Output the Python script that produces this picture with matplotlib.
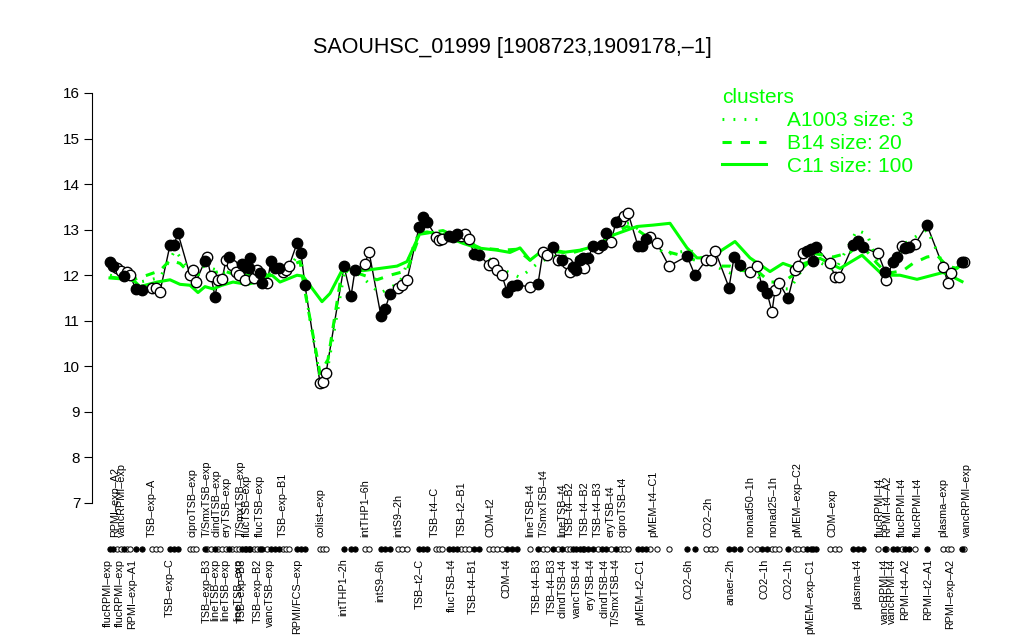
import matplotlib
matplotlib.use("Agg")
import matplotlib.pyplot as plt
from matplotlib.lines import Line2D

plt.rcParams['font.family'] = ['Liberation Sans', 'DejaVu Sans']

GREEN = '#00FF00'
title = "SAOUHSC_01999 [1908723,1909178,\u20131]"

# condition positions along the x axis, expression values, filled (1) / open (0)
xpos = [110, 113, 117, 121, 124, 127, 130, 136, 142, 152, 156, 160, 170, 174, 178,
        190, 193, 196, 205, 207, 211, 215, 218, 222, 226, 229, 232, 236, 239, 242,
        245, 246, 249, 250, 254, 257, 260, 262, 267, 271, 275, 279, 283, 286, 289,
        297, 301, 305, 320, 323, 326, 344, 351, 355, 365, 369, 381, 385, 390, 398,
        402, 407, 419, 423, 427, 436, 439, 442, 449, 453, 457, 461, 465, 469, 474,
        479, 489, 493, 497, 502, 507, 512, 517, 530, 538, 543, 547, 553, 558, 562,
        567, 570, 573, 576, 580, 583, 584, 588, 593, 598, 602, 606, 611, 616, 620,
        624, 628, 638, 642, 646, 650, 657, 669, 687, 695, 706, 711, 715, 729, 734,
        740, 750, 757, 762, 767, 772, 775, 779, 788, 795, 798, 803, 807, 811, 813,
        816, 830, 835, 839, 853, 858, 863, 878, 885, 886, 893, 897, 902, 905, 909,
        915, 927, 943, 948, 951, 962, 964]
values = [12.30, 12.20, 12.15, 12.10, 11.98, 12.08, 12.00, 11.69, 11.67, 11.73, 11.71, 11.64, 12.66, 12.67, 12.92,
          12.00, 12.11, 11.86, 12.32, 12.39, 11.98, 11.53, 11.89, 11.91, 12.33, 12.39, 12.22, 12.08, 12.00, 12.25,
          11.89, 12.19, 12.15, 12.37, 11.93, 12.11, 12.04, 11.82, 11.82, 12.31, 12.15, 12.15, 12.08, 12.12, 12.20,
          12.70, 12.49, 11.78, 9.64, 9.66, 9.85, 12.20, 11.54, 12.11, 12.25, 12.52, 11.10, 11.25, 11.59, 11.71,
          11.78, 11.89, 13.05, 13.28, 13.17, 12.85, 12.77, 12.79, 12.86, 12.83, 12.90, 12.86, 12.90, 12.79, 12.47,
          12.45, 12.22, 12.26, 12.11, 12.00, 11.64, 11.76, 11.78, 11.75, 11.81, 12.52, 12.44, 12.61, 12.33, 12.33,
          12.26, 12.08, 12.18, 12.11, 12.33, 12.37, 12.15, 12.37, 12.64, 12.59, 12.66, 12.92, 12.74, 13.17, 13.20,
          13.30, 13.37, 12.64, 12.64, 12.79, 12.83, 12.70, 12.20, 12.42, 12.00, 12.33, 12.33, 12.54, 11.73, 12.39,
          12.22, 12.06, 12.20, 11.76, 11.62, 11.20, 11.67, 11.84, 11.49, 12.11, 12.20, 12.48, 12.54, 12.57, 12.32,
          12.62, 12.26, 11.97, 11.96, 12.66, 12.76, 12.61, 12.48, 12.08, 11.89, 12.30, 12.41, 12.64, 12.59, 12.61,
          12.68, 13.10, 12.19, 11.82, 12.04, 12.30, 12.30]
filled = [1, 1, 0, 0, 1, 0, 0, 1, 1, 0, 0, 0, 1, 1, 1,
          0, 0, 0, 1, 0, 0, 1, 0, 0, 0, 1, 0, 0, 0, 1,
          0, 1, 1, 1, 0, 0, 1, 1, 0, 1, 1, 1, 0, 0, 0,
          1, 1, 1, 0, 0, 0, 1, 1, 1, 0, 0, 1, 1, 1, 0,
          0, 0, 1, 1, 1, 0, 0, 0, 1, 1, 1, 0, 0, 0, 1,
          1, 0, 0, 0, 0, 1, 1, 1, 0, 1, 0, 0, 1, 0, 1,
          0, 0, 1, 1, 1, 1, 0, 1, 1, 0, 1, 1, 0, 1, 0,
          0, 0, 1, 1, 1, 0, 0, 0, 1, 1, 0, 0, 0, 1, 1,
          1, 0, 0, 1, 1, 0, 0, 0, 1, 0, 0, 0, 1, 1, 1,
          1, 0, 0, 0, 1, 1, 1, 0, 1, 0, 1, 1, 0, 1, 1,
          0, 1, 0, 0, 0, 1, 0]

# cluster profiles
c11_x = [110, 133, 140, 157, 170, 180, 190, 198, 205, 213, 222, 233, 247, 257, 263, 272, 280, 297, 303, 322,
         330, 343, 363, 380, 397, 407, 420, 427, 440, 463, 477, 497, 510, 520, 530, 543, 563, 580, 597, 613,
         637, 653, 670, 687, 697, 710, 735, 750, 770, 783, 793, 810, 820, 840, 862, 883, 900, 917, 943, 953, 962]
c11_v = [11.94, 11.90, 11.75, 11.85, 11.90, 11.80, 11.78, 11.62, 11.75, 11.70, 11.78, 11.85, 11.80, 11.85, 11.95,
         12.00, 11.85, 12.00, 11.98, 11.42, 11.60, 12.15, 12.10, 12.15, 12.20, 12.30, 12.92, 12.95, 12.90, 12.70,
         12.60, 12.55, 12.50, 12.60, 12.33, 12.55, 12.50, 12.55, 12.65, 12.88, 13.07, 13.10, 13.14, 12.60, 12.38,
         12.38, 12.74, 12.38, 12.08, 12.26, 12.18, 12.30, 12.37, 12.15, 12.44, 12.00, 12.00, 11.91, 12.06, 11.96, 11.86]
b14_x = [110, 133, 147, 160, 170, 180, 190, 203, 223, 237, 250, 263, 277, 300, 305, 320, 328, 342, 357, 377,
         390, 407, 420, 443, 463, 480, 503, 517, 530, 550, 570, 590, 603, 617, 627, 637, 650, 670, 687, 703,
         717, 730, 743, 757, 770, 783, 797, 810, 813, 833, 850, 860, 877, 887, 903, 913, 927, 937, 947, 957, 963]
b14_v = [11.96, 11.90, 12.00, 12.10, 12.33, 12.26, 12.04, 12.00, 12.10, 12.00, 12.00, 11.95, 12.10, 12.30, 11.64,
         9.85, 10.15, 12.10, 12.05, 11.90, 12.00, 12.10, 12.90, 12.98, 12.77, 12.60, 12.55, 12.57, 12.33, 12.57,
         12.48, 12.60, 12.66, 12.96, 13.07, 13.00, 12.80, 12.50, 12.40, 12.26, 12.20, 12.20, 12.10, 12.10, 11.85,
         11.85, 12.06, 12.30, 12.48, 12.40, 12.50, 12.70, 12.26, 12.04, 12.10, 12.26, 12.40, 12.44, 12.20, 12.15, 12.26]
a1003_x = [110, 140, 160, 175, 190, 205, 225, 245, 265, 290, 300, 305, 320, 328, 345, 360, 380, 400, 420, 440,
           465, 480, 500, 520, 540, 560, 580, 600, 617, 630, 645, 665, 690, 710, 730, 750, 770, 790, 810, 835,
           857, 867, 887, 905, 927, 945, 963]
a1003_v = [12.00, 11.85, 11.95, 12.55, 12.10, 12.20, 12.05, 12.15, 12.00, 12.20, 12.50, 11.70, 9.75, 10.00, 12.15,
           12.00, 11.60, 11.85, 13.00, 12.90, 12.85, 12.55, 12.15, 11.95, 12.30, 12.45, 12.35, 12.65, 13.10, 13.15,
           12.90, 12.45, 12.55, 12.25, 12.05, 12.15, 11.70, 11.70, 12.40, 12.10, 12.99, 12.90, 11.75, 12.70, 13.00,
           12.15, 12.15]

# condition labels above and below the marker strip
top_labels = ["RPMI\u2013exp\u2013A2", "vancRPMI\u2013exp", "TSB\u2013exp\u2013A", "ciproTSB\u2013exp",
              "T/SmxTSB\u2013exp", "clindTSB\u2013exp", "eryTSB\u2013exp", "T/SmxTSB\u2013exp", "flucTSB\u2013exp",
              "flucTSB\u2013exp", "TSB\u2013exp\u2013B1", "colist\u2013exp", "intTHP1\u20136h", "intS9\u20132h",
              "TSB\u2013t4\u2013C", "TSB\u2013t2\u2013B1", "CDM\u2013t2", "lineTSB\u2013t4", "T/SmxTSB\u2013t4",
              "lineTSB\u2013t4", "TSB\u2013t4\u2013B2", "TSB\u2013t4\u2013B2", "TSB\u2013t4\u2013B3", "eryTSB\u2013t4",
              "ciproTSB\u2013t4", "pMEM\u2013t4\u2013C1", "CO2\u20132h", "nonad50\u20131h", "nonad25\u20131h",
              "pMEM\u2013exp\u2013C2", "CDM\u2013exp", "flucRPMI\u2013t4", "RPMI\u2013t4\u2013A2", "flucRPMI\u2013t4",
              "flucRPMI\u2013t4", "plasma\u2013exp", "vancRPMI\u2013exp"]
top_x = [115, 122, 152, 192, 207, 216, 227, 241, 247, 260, 283, 320, 365, 398, 435, 462, 490, 530, 544,
         562, 570, 585, 598, 610, 622, 653, 708, 750, 773, 797, 832, 880, 887, 902, 918, 943, 967]
bottom_labels = ["flucRPMI\u2013exp", "flucRPMI\u2013exp", "RPMI\u2013exp\u2013A1", "TSB\u2013exp\u2013C",
                 "TSB\u2013exp\u2013B3", "lineTSB\u2013exp", "lineTSB\u2013exp", "lineTSB\u2013exp",
                 "TSB\u2013exp\u2013B3", "TSB\u2013exp\u2013B2", "vancTSB\u2013exp", "RPMI/FCS\u2013exp",
                 "intTHP1\u20132h", "intS9\u20136h", "TSB\u2013t2\u2013C", "flucTSB\u2013t4", "TSB\u2013t4\u2013B1",
                 "CDM\u2013t4", "TSB\u2013t4\u2013B3", "TSB\u2013t4\u2013B3", "clindTSB\u2013t4", "vancTSB\u2013t4",
                 "eryTSB\u2013t4", "clindTSB\u2013t4", "T/SmxTSB\u2013t4", "pMEM\u2013t2\u2013C1", "CO2\u20136h",
                 "anaer\u20132h", "CO2\u20131h", "CO2\u20131h", "pMEM\u2013exp\u2013C1", "plasma\u2013t4",
                 "vancRPMI\u2013t4", "vancRPMI\u2013t4", "RPMI\u2013t4\u2013A2", "RPMI\u2013t2\u2013A1",
                 "RPMI\u2013exp\u2013A2"]
bottom_x = [108, 120, 132, 170, 207, 215, 225, 238, 242, 258, 270, 297, 343, 380, 420, 452, 473, 507,
            537, 552, 563, 577, 590, 604, 616, 640, 688, 730, 765, 788, 810, 857, 885, 892, 905, 928, 950]

legend_labels = ["A1003 size: 3", "B14 size: 20", "C11 size: 100"]
y_ticks = [7, 8, 9, 10, 11, 12, 13, 14, 15, 16]

fig = plt.figure(figsize=(10.24, 6.4), dpi=100)
ax = fig.add_axes([92 / 1024, 120.6 / 640, (1000 - 92) / 1024, 442.8 / 640])
ax.set_xlim(92, 1000)
ax.set_ylim(6.64, 16.36)

# black profile line and points
ax.plot(xpos, values, color='black', lw=1.0, zorder=2)
ax.plot(c11_x, c11_v, color=GREEN, lw=2.2, ls='-', zorder=3)
ax.plot(b14_x, b14_v, color=GREEN, lw=2.2, ls=(0, (3, 3)), zorder=3)
ax.plot(a1003_x, a1003_v, color=GREEN, lw=2.2, ls=(0, (0.6, 3)), zorder=3)
fx = [x for x, f in zip(xpos, filled) if f]
fv = [v for v, f in zip(values, filled) if f]
ox = [x for x, f in zip(xpos, filled) if not f]
ov = [v for v, f in zip(values, filled) if not f]
ax.plot(ox, ov, ls='none', marker='o', ms=7.5, mfc='white', mec='black', mew=1.0, zorder=4)
ax.plot(fx, fv, ls='none', marker='o', ms=7.5, mfc='black', mec='black', mew=1.0, zorder=5)

# marker strip
strip_y = 5.99
ax.plot(ox, [strip_y] * len(ox), ls='none', marker='o', ms=3.8, mfc='white', mec='black', mew=0.7, clip_on=False)
ax.plot(fx, [strip_y] * len(fx), ls='none', marker='o', ms=3.8, mfc='black', mec='black', mew=0.7, clip_on=False)

for name, x in zip(top_labels, top_x):
    ax.text(x, 6.25, name, rotation=90, ha='center', va='bottom', fontsize=7.8, clip_on=False)
for name, x in zip(bottom_labels, bottom_x):
    ax.text(x, 5.78, name, rotation=90, ha='center', va='top', fontsize=7.8, clip_on=False)

# axes styling
for s in ['top', 'right', 'bottom']:
    ax.spines[s].set_visible(False)
ax.spines['left'].set_bounds(7, 16)
ax.spines['left'].set_linewidth(0.8)
ax.set_yticks(y_ticks)
ax.set_yticklabels([str(t) for t in y_ticks], fontsize=11)
ax.tick_params(axis='y', length=5.5, width=0.8, pad=3)
ax.set_xticks([])

fig.text(0.5, 1 - 48 / 640, title, ha='center', va='center', fontsize=15.5)

handles = [Line2D([], [], color=GREEN, lw=2.2, ls=(0, (0.6, 3))),
           Line2D([], [], color=GREEN, lw=2.2, ls=(0, (3, 3))),
           Line2D([], [], color=GREEN, lw=2.2, ls='-')]
leg = ax.legend(handles, legend_labels, loc='upper left', bbox_to_anchor=(712 / 1024, 1 - 78 / 640),
                bbox_transform=fig.transFigure, frameon=False, fontsize=15, title='clusters',
                title_fontsize=15, labelcolor=GREEN, handlelength=2.1, handletextpad=1.0,
                labelspacing=0.18, borderpad=0, alignment='left')
leg.get_title().set_color(GREEN)

fig.savefig('out.png', dpi=100)
